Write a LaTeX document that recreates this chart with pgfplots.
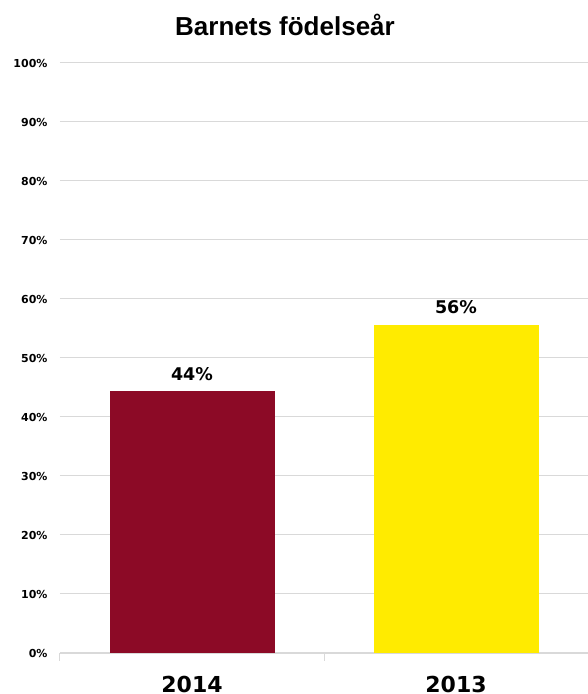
\documentclass[border=0pt]{standalone}
\usepackage{fontspec}
\setmainfont{Liberation Sans}
\newfontfamily\dvs{DejaVu Sans}
\newfontfamily\lib{Liberation Sans}
\usepackage{pgfplots}
\pgfplotsset{compat=1.18}
\definecolor{barred}{HTML}{8C0A26}
\definecolor{baryel}{HTML}{FFEB00}
\definecolor{gridc}{HTML}{D9D9D9}
\begin{document}
\begin{tikzpicture}
\useasboundingbox (0pt,0pt) rectangle (588pt,694pt);
\begin{axis}[
  at={(60pt,41pt)}, anchor=south west,
  scale only axis, width=528pt, height=590pt,
  xmin=0, xmax=2, ymin=0, ymax=100,
  ybar, bar width=165pt,
  axis x line*=bottom, axis y line*=left,
  y axis line style={draw=none},
  x axis line style={draw=gridc, line width=1.5pt, -},
  ytick={0,10,...,100},
  yticklabels={0\%,10\%,20\%,30\%,40\%,50\%,60\%,70\%,80\%,90\%,100\%},
  ytick style={draw=none},
  yticklabel style={font=\dvs\bfseries\fontsize{11}{11}\selectfont, anchor=east, xshift=-9pt},
  ymajorgrids, grid style={draw=gridc, line width=1pt},
  xtick={0.5,1.5}, xticklabels={2014,2013},
  xtick style={draw=none},
  xticklabel style={font=\dvs\bfseries\fontsize{22}{22}\selectfont, anchor=base, inner sep=0pt, yshift=-35pt},
  extra x ticks={0,1,2}, extra x tick labels={},
  extra x tick style={xtick style={draw=gridc, line width=1pt}, major tick length=8pt, tick align=outside, grid=none},
  nodes near coords, point meta=explicit symbolic,
  every node near coord/.append style={font=\dvs\bfseries\fontsize{17.5}{17.5}\selectfont, anchor=base, yshift=11pt, inner sep=0pt},
]
\addplot[fill=barred, draw=none, bar shift=0pt] coordinates {(0.5,44.4) [44\%]};
\addplot[fill=baryel, draw=none, bar shift=0pt] coordinates {(1.5,55.6) [56\%]};
\end{axis}
\node[font=\lib\bfseries\fontsize{26}{26}\selectfont, anchor=base] at (285pt,658pt) {Barnets födelseår};
\end{tikzpicture}
\end{document}
